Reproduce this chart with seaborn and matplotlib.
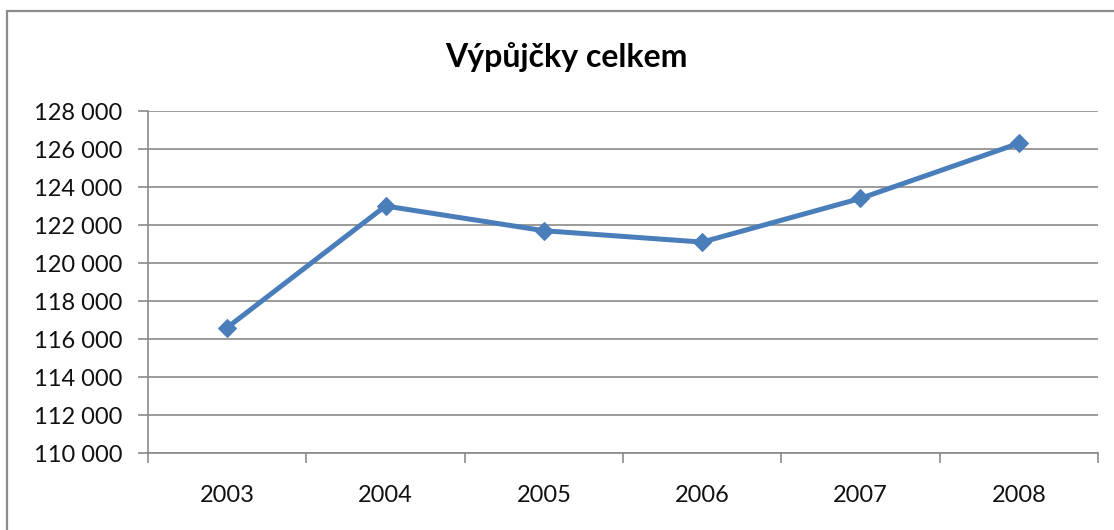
"""
Výpůjčky celkem - spojnicový graf (2003-2008).
"""

import matplotlib

matplotlib.use("Agg")

import matplotlib.pyplot as plt
import pandas as pd
import seaborn as sns
from matplotlib.patches import Rectangle
from matplotlib.ticker import FixedLocator, FuncFormatter


TITLE = "Výpůjčky celkem"
YEARS = ["2003", "2004", "2005", "2006", "2007", "2008"]
LOANS = [116600, 123000, 121700, 121100, 123400, 126300]
Y_TICKS = list(range(110000, 128001, 2000))

LINE_COLOR = "#4A7EBB"
GRID_COLOR = "#8A8A8A"
FONT = ["Lato", "DejaVu Sans"]


def thousands(value, _pos) -> str:
    """Formát s mezerou jako oddělovačem tisíců."""
    return f"{int(value):,}".replace(",", " ")


def main() -> None:
    sns.set_style("white")
    plt.rcParams["font.family"] = FONT

    df = pd.DataFrame({"Rok": YEARS, "Výpůjčky": LOANS})

    fig = plt.figure(figsize=(11.14, 5.30), dpi=100)
    fig.patch.set_facecolor("white")

    # rámeček celého grafu (pravý a dolní okraj jsou mimo obrázek)
    fig.add_artist(
        Rectangle(
            (6.5 / 1114, -0.05),
            1.1,
            1 - 11 / 530 + 0.05,
            transform=fig.transFigure,
            fill=False,
            edgecolor="#8C8C8C",
            linewidth=1.6,
        )
    )

    ax = fig.add_axes([148 / 1114, 1 - 453 / 530, 950 / 1114, 342 / 530])
    sns.lineplot(
        data=df,
        x="Rok",
        y="Výpůjčky",
        ax=ax,
        color=LINE_COLOR,
        linewidth=3.6,
        marker="D",
        markersize=9.5,
        markeredgecolor=LINE_COLOR,
        sort=False,
    )

    ax.set_xlim(-0.5, len(YEARS) - 0.5)
    ax.set_ylim(Y_TICKS[0], Y_TICKS[-1])
    ax.set_yticks(Y_TICKS)
    ax.yaxis.set_major_formatter(FuncFormatter(thousands))
    ax.set_xticks(range(len(YEARS)))
    ax.set_xticklabels(YEARS)
    ax.xaxis.set_minor_locator(FixedLocator([i - 0.5 for i in range(len(YEARS) + 1)]))

    ax.grid(axis="y", color=GRID_COLOR, linewidth=1.2)
    ax.set_axisbelow(True)
    for side in ["top", "right"]:
        ax.spines[side].set_visible(False)
    for side in ["left", "bottom"]:
        ax.spines[side].set_color(GRID_COLOR)
        ax.spines[side].set_linewidth(1.2)

    ax.tick_params(axis="y", which="major", left=True, length=7.5, width=1.2,
                   color=GRID_COLOR, labelsize=17, pad=11, labelcolor="#111111")
    ax.tick_params(axis="x", which="major", bottom=False, length=0,
                   labelsize=17, pad=23, labelcolor="#111111")
    ax.tick_params(axis="x", which="minor", bottom=True, length=7, width=1.2,
                   color=GRID_COLOR)

    ax.set_xlabel("")
    ax.set_ylabel("")

    fig.text(566 / 1114, 1 - 57 / 530, TITLE, ha="center", va="center",
             fontsize=23, fontweight="bold", color="black")

    fig.savefig("out.png", dpi=100)
    plt.close(fig)


if __name__ == "__main__":
    main()
